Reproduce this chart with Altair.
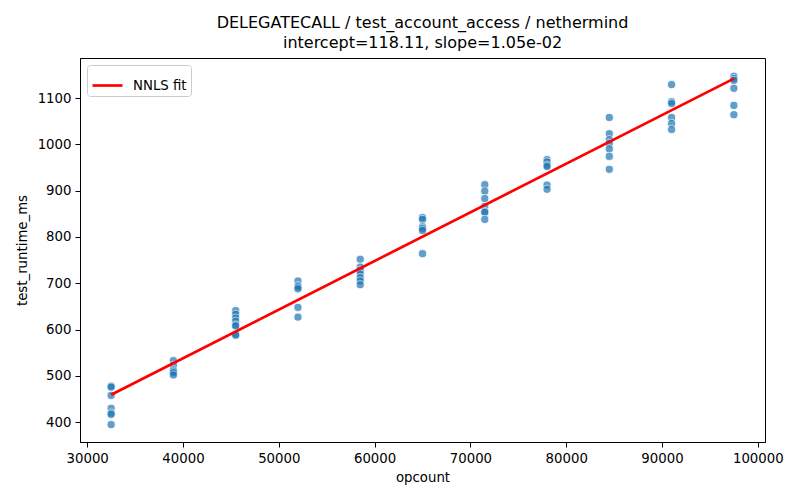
import altair as alt
import pandas as pd

# scatter data: opcount groups and runtimes
opcounts = [32500, 39000, 45500, 52000, 58500, 65000, 71500, 78000, 84500, 91000, 97500]
runtimes = [
    [478, 476, 458, 430, 420, 417, 395],
    [533, 523, 513, 510, 507, 502],
    [641, 633, 625, 618, 610, 608, 590, 588],
    [705, 695, 692, 688, 648, 627],
    [752, 735, 728, 720, 712, 705, 697],
    [842, 838, 822, 818, 814, 764],
    [913, 899, 883, 866, 855, 853, 838],
    [967, 962, 955, 952, 912, 903],
    [1058, 1023, 1010, 1002, 990, 974, 946],
    [1129, 1092, 1088, 1058, 1045, 1032],
    [1147, 1142, 1138, 1121, 1084, 1064],
]
fit_x = [32500, 97500]
fit_y = [459.4, 1141.9]
fit_label = ["NNLS fit", "NNLS fit"]

rows = []
for oc, vals in zip(opcounts, runtimes):
    for v in vals:
        rows.append({"opcount": oc, "test_runtime_ms": v})
pts = pd.DataFrame(rows)
fit = pd.DataFrame({"opcount": fit_x, "test_runtime_ms": fit_y, "series": fit_label})

FONT = "DejaVu Sans"
xs = alt.Scale(domain=[29250, 100750], nice=False, zero=False)
ys = alt.Scale(domain=[357.4, 1186.4], nice=False, zero=False)

xax = alt.Axis(title="opcount", values=list(range(30000, 100001, 10000)), format="d",
               grid=False, tickSize=5, labelPadding=4, titlePadding=6)
yax = alt.Axis(title="test_runtime_ms", values=list(range(400, 1101, 100)), format="d",
               grid=False, tickSize=5, labelPadding=4, titlePadding=8)

scatter = alt.Chart(pts).mark_circle(
    size=66, color="#1f77b4", opacity=0.7, stroke="white", strokeWidth=0.8, strokeOpacity=1
).encode(
    x=alt.X("opcount:Q", scale=xs, axis=xax),
    y=alt.Y("test_runtime_ms:Q", scale=ys, axis=yax),
)

line = alt.Chart(fit).mark_line(strokeWidth=2.7).encode(
    x=alt.X("opcount:Q", scale=xs),
    y=alt.Y("test_runtime_ms:Q", scale=ys),
    color=alt.Color("series:N", scale=alt.Scale(domain=["NNLS fit"], range=["#ff0000"]),
                    legend=alt.Legend(title=None, orient="top-left", symbolType="stroke",
                                      symbolSize=900, symbolStrokeWidth=2.7, offset=7,
                                      padding=4, fillColor="white", strokeColor="#cccccc",
                                      cornerRadius=3, labelFontSize=13.3, labelFont=FONT,
                                      labelColor="black", labelOffset=9)),
)

chart = alt.layer(scatter, line).properties(
    width=685, height=384,
    title=alt.TitleParams(
        text=["DELEGATECALL / test_account_access / nethermind",
              "intercept=118.11, slope=1.05e-02"],
        fontSize=16, font=FONT, fontWeight="normal", color="black",
        lineHeight=20.5, offset=7, anchor="middle",
    ),
    padding={"left": 72, "top": 50, "right": 20, "bottom": 56},
    autosize=alt.AutoSizeParams(type="none"),
).configure_view(
    stroke="black", strokeWidth=1
).configure_axis(
    labelFont=FONT, titleFont=FONT, labelFontSize=13.3, titleFontSize=13.3,
    labelColor="black", titleColor="black", titleFontWeight="normal",
    domainColor="black", tickColor="black", domain=True,
)

chart.save("out.html", embed_options={"renderer": "svg", "actions": False})
